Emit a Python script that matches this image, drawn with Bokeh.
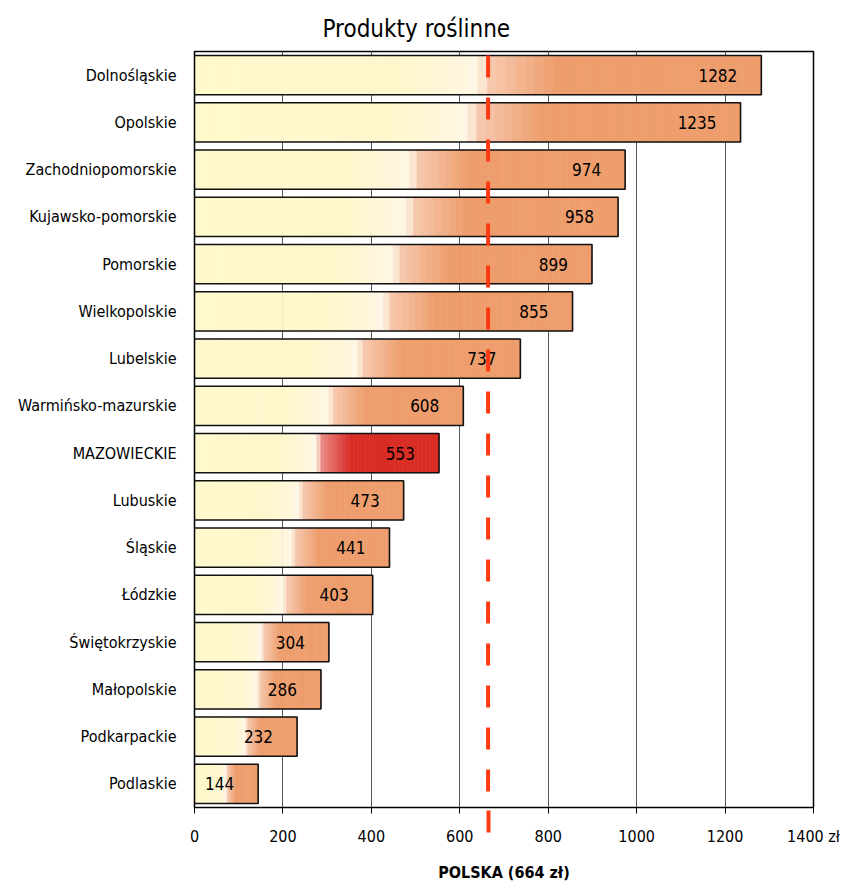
import numpy as np
from bokeh.plotting import figure
from bokeh.models import ColumnDataSource, Span, FixedTicker, Range1d, FactorRange
from bokeh.core.properties import value
from bokeh.embed import file_html
from bokeh.resources import INLINE

# ---------------- data ----------------
regions = ["Dolnośląskie", "Opolskie", "Zachodniopomorskie", "Kujawsko-pomorskie",
           "Pomorskie", "Wielkopolskie", "Lubelskie", "Warmińsko-mazurskie",
           "MAZOWIECKIE", "Lubuskie", "Śląskie", "Łódzkie", "Świętokrzyskie",
           "Małopolskie", "Podkarpackie", "Podlaskie"]
values = [1282, 1235, 974, 958, 899, 855, 737, 608, 553, 473, 441, 403, 304, 286, 232, 144]
highlight = "MAZOWIECKIE"
polska = 664
x_ticks = [0, 200, 400, 600, 800, 1000, 1200, 1400]
x_tick_labels = ["0", "200", "400", "600", "800", "1000", "1200", "1400 zł"]
title_text = "Produkty roślinne"
x_label = "POLSKA (664 zł)"

FONT = "DejaVu Sans Condensed"
DASH_COLOR = "#ff3a12"

YELLOW = (255, 249, 204)
ORANGE = (238, 157, 108)
RED = (216, 44, 36)


def interp(stops, t):
    for (t0, c0), (t1, c1) in zip(stops[:-1], stops[1:]):
        if t0 <= t <= t1:
            f = 0 if t1 == t0 else (t - t0) / (t1 - t0)
            return tuple(int(round(a + (b - a) * f)) for a, b in zip(c0, c1))
    return stops[-1][1]


def grad_color(t, end):
    mid = tuple(int(round(0.55 * e + 0.45 * 255)) for e in end)
    stops = [(0.0, YELLOW), (0.36, (255, 247, 204)), (0.47, (255, 246, 222)),
             (0.50, (255, 248, 232)), (0.52, mid), (0.64, end), (1.0, end)]
    r, g, b = interp(stops, t)
    return "#%02x%02x%02x" % (r, g, b)


N = 60
seg_y, seg_l, seg_r, seg_c = [], [], [], []
for reg, v in zip(regions, values):
    end = RED if reg == highlight else ORANGE
    for i in range(N):
        seg_y.append(reg)
        seg_l.append(v * i / N)
        seg_r.append(v * (i + 1) / N)
        seg_c.append(grad_color((i + 0.5) / N, end))
seg_src = ColumnDataSource(dict(y=seg_y, left=seg_l, right=seg_r, color=seg_c))
bar_src = ColumnDataSource(dict(y=regions, right=values, label=[str(v) for v in values]))

W, H = 848, 884
p = figure(y_range=FactorRange(*reversed(regions)), x_range=Range1d(0, 1400),
           width=W, height=H, output_backend="svg", toolbar_location=None,
           min_border_left=194, min_border_right=W - 813, min_border_top=51,
           min_border_bottom=H - 808)

p.title.text = title_text
p.title.text_font = FONT
p.title.text_font_size = "24px"
p.title.text_font_style = "normal"
p.title.align = "left"
p.title.offset = 128
p.title.standoff = 17
p.title.text_color = "#000000"

p.outline_line_color = "#000000"
p.outline_line_width = 1.5
p.background_fill_color = "white"

p.xgrid.grid_line_color = "#555555"
p.xgrid.grid_line_width = 1
p.ygrid.grid_line_color = None
p.xgrid.ticker = FixedTicker(ticks=x_ticks)

# gradient slices
p.hbar(y="y", left="left", right="right", height=0.83, source=seg_src,
       fill_color="color", line_color="color", line_width=0.6)
# outline
p.hbar(y="y", left=0, right="right", height=0.83, source=bar_src,
       fill_color=None, line_color="#111111", line_width=1.6)

p.text(x="right", y="y", text="label", source=bar_src, text_align="right",
       text_baseline="middle", x_offset=-24, text_font=value(FONT),
       text_font_size="17px", text_color="#000000")

p.add_layout(Span(location=polska, dimension="height", line_color=DASH_COLOR,
                  line_width=4, line_dash="22 20", line_dash_offset=38))

xa = p.xaxis[0]
# major ticks: scale; the single minor tick continues the national-average dash below the axis
xa.ticker = FixedTicker(ticks=x_ticks, minor_ticks=[polska])
xa.major_label_overrides = {t: l for t, l in zip(x_ticks, x_tick_labels)}
xa.major_label_text_font = FONT
xa.major_label_text_font_size = "16px"
xa.major_label_text_color = "#000000"
xa.major_tick_out = 6
xa.major_tick_in = 0
xa.major_tick_line_color = "#000000"
xa.minor_tick_in = -3
xa.minor_tick_out = 25
xa.minor_tick_line_color = DASH_COLOR
xa.minor_tick_line_width = 4
xa.axis_line_color = "#000000"
xa.major_label_standoff = -6
xa.axis_label = x_label
xa.axis_label_text_font = FONT
xa.axis_label_text_font_size = "16px"
xa.axis_label_text_font_style = "bold"
xa.axis_label_text_color = "#000000"
xa.axis_label_standoff = 14

ya = p.yaxis[0]
ya.major_label_text_font = FONT
ya.major_label_text_font_size = "16px"
ya.major_label_text_color = "#000000"
ya.major_tick_line_color = None
ya.major_tick_out = 0
ya.minor_tick_line_color = None
ya.axis_line_color = "#000000"
ya.major_label_standoff = 18

open("out.html", "w").write(file_html(p, INLINE))
